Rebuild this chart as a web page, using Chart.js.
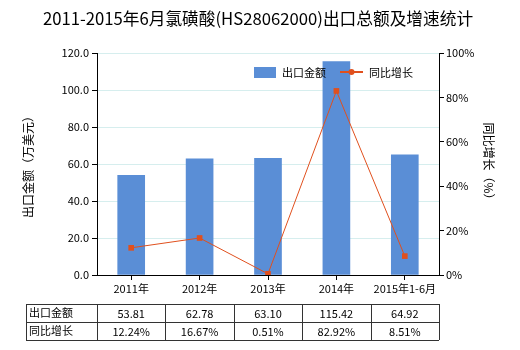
<!DOCTYPE html>
<html>
<head>
<meta charset="utf-8">
<script src="https://cdn.jsdelivr.net/npm/chart.js@4"></script>
<style>
html,body{margin:0;padding:0;background:#fff;}
#wrap{width:520px;height:350px;position:relative;}
</style>
</head>
<body>
<div id="wrap"><canvas id="c" width="520" height="350"></canvas></div>
<script>
const titleText = '2011-2015年6月氯磺酸(HS28062000)出口总额及增速统计';
const categories = ['2011年', '2012年', '2013年', '2014年', '2015年1-6月'];
const exportValues = [53.81, 62.78, 63.10, 115.42, 64.92];
const growthRates = [12.24, 16.67, 0.51, 82.92, 8.51];
const seriesNames = ['出口金额', '同比增长'];
const leftAxisTitle = '出口金额（万美元）';
const rightAxisTitle = '同比增长（%）';

const FONT = '"Noto Sans CJK SC", "Microsoft YaHei", sans-serif';
const BAR_COLOR = '#5a8ed6';
const LINE_COLOR = '#e0501e';

const decorPlugin = {
  id: 'decor',
  afterDraw(chart) {
    const ctx = chart.ctx;
    const x = chart.scales.x;
    const area = chart.chartArea;
    ctx.save();
    // title
    ctx.fillStyle = '#000';
    ctx.font = '16.7px ' + FONT;
    ctx.textAlign = 'center';
    ctx.textBaseline = 'middle';
    ctx.fillText(titleText, 258, 19);
    // axis titles
    ctx.font = '12px ' + FONT;
    ctx.save();
    ctx.translate(28, (area.top + area.bottom) / 2);
    ctx.rotate(-Math.PI / 2);
    ctx.fillText(leftAxisTitle, 0, 0);
    ctx.restore();
    ctx.save();
    ctx.translate(489, (area.top + area.bottom) / 2);
    ctx.rotate(Math.PI / 2);
    ctx.fillText(rightAxisTitle, 0, 0);
    ctx.restore();
    // legend
    ctx.font = '11px ' + FONT;
    ctx.textAlign = 'left';
    ctx.fillStyle = BAR_COLOR;
    ctx.fillRect(254, 67, 22, 11);
    ctx.fillStyle = '#000';
    ctx.fillText(seriesNames[0], 282, 72.5);
    ctx.strokeStyle = LINE_COLOR;
    ctx.lineWidth = 2;
    ctx.beginPath(); ctx.moveTo(340, 72); ctx.lineTo(363, 72); ctx.stroke();
    ctx.fillStyle = LINE_COLOR;
    ctx.beginPath(); ctx.arc(351.5, 72, 3, 0, Math.PI * 2); ctx.fill();
    ctx.fillStyle = '#000';
    ctx.fillText(seriesNames[1], 369, 72.5);
    // table
    const half = (x.getPixelForValue(1) - x.getPixelForValue(0)) / 2;
    const tLeft = 26, tTop = 304, rowH = 18;
    const colStart = x.getPixelForValue(0) - half;
    const tRight = x.getPixelForValue(categories.length - 1) + half;
    ctx.strokeStyle = '#333';
    ctx.lineWidth = 1;
    ctx.beginPath();
    for (let r = 0; r <= 2; r++) {
      const yy = Math.round(tTop + r * rowH) + 0.5;
      ctx.moveTo(tLeft, yy); ctx.lineTo(tRight, yy);
    }
    const vlines = [tLeft, colStart];
    for (let i = 0; i < categories.length; i++) vlines.push(x.getPixelForValue(i) + half);
    vlines.forEach(v => {
      const xx = Math.round(v) + 0.5;
      ctx.moveTo(xx, tTop); ctx.lineTo(xx, tTop + 2 * rowH);
    });
    ctx.stroke();
    ctx.fillStyle = '#000';
    ctx.font = '11px ' + FONT;
    ctx.textAlign = 'left';
    ctx.fillText(seriesNames[0], tLeft + 3, tTop + rowH / 2);
    ctx.fillText(seriesNames[1], tLeft + 3, tTop + rowH * 1.5);
    ctx.textAlign = 'center';
    for (let i = 0; i < categories.length; i++) {
      const cx = x.getPixelForValue(i);
      ctx.fillText(exportValues[i].toFixed(2), cx, tTop + rowH / 2 + 1);
      ctx.fillText(growthRates[i].toFixed(2) + '%', cx, tTop + rowH * 1.5 + 1);
    }
    ctx.restore();
  }
};

new Chart(document.getElementById('c'), {
  data: {
    labels: categories,
    datasets: [
      {
        type: 'line',
        label: seriesNames[1],
        data: growthRates,
        yAxisID: 'y1',
        borderColor: LINE_COLOR,
        backgroundColor: LINE_COLOR,
        borderWidth: 1,
        pointStyle: 'rect',
        pointRadius: 4,
        pointBorderWidth: 0,
        tension: 0,
        order: 1
      },
      {
        type: 'bar',
        label: seriesNames[0],
        data: exportValues,
        yAxisID: 'y',
        backgroundColor: BAR_COLOR,
        barThickness: 27,
        order: 2
      }
    ]
  },
  options: {
    responsive: false,
    animation: false,
    layout: { padding: { top: 53, left: 0, right: 0, bottom: 0 } },
    plugins: { legend: { display: false }, title: { display: false }, tooltip: { enabled: false } },
    scales: {
      x: {
        offset: true,
        grid: { offset: false, drawOnChartArea: false, drawTicks: true, tickLength: 5, tickColor: '#000' },
        border: { color: '#000', width: 1 },
        ticks: { color: '#000', font: { family: FONT, size: 11 }, padding: 2, maxRotation: 0, autoSkip: false },
        afterFit(s) { s.height = 75; }
      },
      y: {
        position: 'left',
        min: 0, max: 120,
        ticks: { stepSize: 20, color: '#000', font: { family: FONT, size: 11 }, padding: 3, callback: v => v.toFixed(1) },
        grid: { color: '#d6eeee', tickColor: '#000', tickLength: 5 },
        border: { color: '#000', width: 1 },
        afterFit(s) { s.width = 97; }
      },
      y1: {
        position: 'right',
        min: 0, max: 100,
        ticks: { stepSize: 20, color: '#000', font: { family: FONT, size: 11 }, padding: 2, callback: v => v + '%' },
        grid: { drawOnChartArea: false, tickColor: '#000', tickLength: 5 },
        border: { color: '#000', width: 1 },
        afterFit(s) { s.width = 81; }
      }
    }
  },
  plugins: [decorPlugin]
});
</script>
</body>
</html>
